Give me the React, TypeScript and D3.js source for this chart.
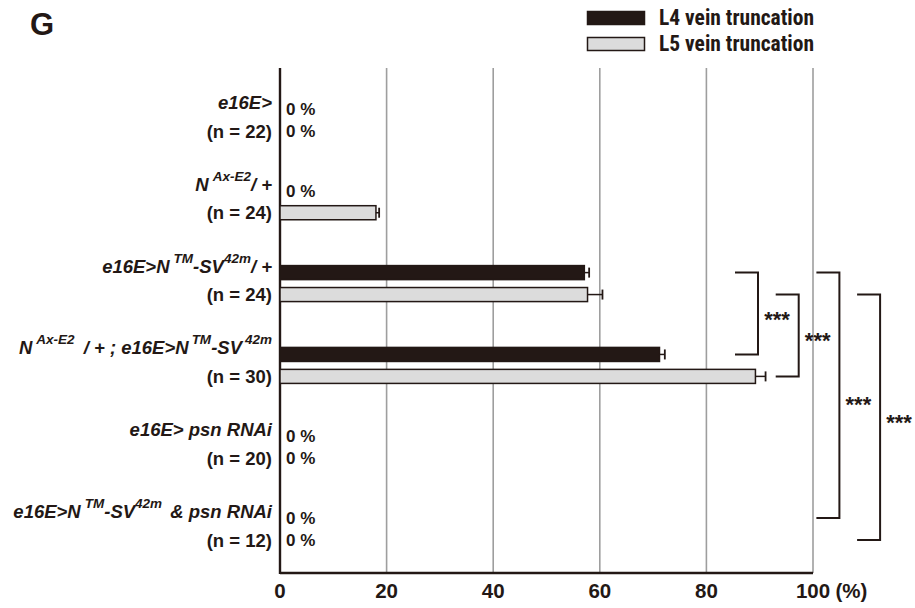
import React from "react";
import * as d3 from "d3";

type Seg = { t: string; sup?: boolean; dx?: number };

const groupLabels: Seg[][] = [
  [{ t: "e16E>" }],
  [{ t: "N" }, { t: "Ax-E2", sup: true, dx: 4 }, { t: "/ +" }],
  [{ t: "e16E>N" }, { t: "TM", sup: true, dx: 4 }, { t: "-SV" }, { t: "42m", sup: true }, { t: "/ +" }],
  [{ t: "N" }, { t: "Ax-E2", sup: true, dx: 4 }, { t: " / + ; e16E>N", dx: 4 }, { t: "TM", sup: true, dx: 3 }, { t: "-SV" }, { t: "42m", sup: true, dx: 3 }],
  [{ t: "e16E> psn RNAi" }],
  [{ t: "e16E>N" }, { t: "TM", sup: true, dx: 4 }, { t: "-SV" }, { t: "42m", sup: true }, { t: " & psn RNAi", dx: 3 }],
];
const nLabels = ["(n = 22)", "(n = 24)", "(n = 24)", "(n = 30)", "(n = 20)", "(n = 12)"];
const groups = ["g1", "g2", "g3", "g4", "g5", "g6"];
const seriesNames = ["L4 vein truncation", "L5 vein truncation"];
const l4Values = [0, 0, 57.1, 71.2, 0, 0];
const l4Errors = [0, 0, 0.9, 1.0, 0, 0];
const l5Values = [0, 18.0, 57.7, 89.2, 0, 0];
const l5Errors = [0, 0.6, 2.8, 1.9, 0, 0];
const xTicks = [0, 20, 40, 60, 80, 100];
const axisUnit = "(%)";
// comparisons: [groupA, groupB, seriesIndex]
const comparisons: [number, number, number][] = [
  [2, 3, 0],
  [2, 3, 1],
  [2, 5, 0],
  [2, 5, 1],
];
const sigLabel = "***";

const SANS = "'Liberation Sans', Arial, Helvetica, sans-serif";
const NARROW = "'Roboto Condensed', 'Liberation Sans Narrow', 'Arial Narrow', sans-serif";
const DARK = "#231815";

export default function App() {
  const W = 915, H = 608;
  const x = d3.scaleLinear().domain([0, 100]).range([280, 813]);
  const y = d3.scaleBand().domain(groups).range([79, 570]).padding(0);
  const ySub = d3.scaleBand().domain(seriesNames).range([-18, 18]).paddingInner(0.36).paddingOuter(0);
  const bh = ySub.bandwidth();
  const seriesVals = [l4Values, l5Values];
  const seriesErr = [l4Errors, l5Errors];
  const fills = [DARK, "#dcdcdc"];
  const axisTop = 68, axisBottom = 573;
  const cy = (gi: number, si: number) => (y(groups[gi]) as number) + y.bandwidth() / 2 + (ySub(seriesNames[si]) as number) + bh / 2;

  return (
    <svg width={W} height={H} style={{ position: "absolute", left: 0, top: 0, background: "#fff" }} fontFamily={SANS}>
      <text x={30} y={35} fontSize={31} fontWeight="bold" fill={DARK}>G</text>
      {/* legend */}
      {seriesNames.map((s, i) => (
        <g key={s}>
          <rect x={587.5} y={11.5 + i * 26} width={57} height={13} fill={fills[i]} stroke={DARK} strokeWidth={1.5} />
          <text x={659} y={17.5 + i * 26} dy="0.36em" fontSize={21.5} fontWeight="bold" fill={DARK} fontFamily={NARROW}>{s}</text>
        </g>
      ))}
      {/* grid */}
      {xTicks.slice(1).map((t) => (
        <line key={t} x1={x(t)} x2={x(t)} y1={axisTop} y2={axisBottom} stroke="#9e9e9e" strokeWidth={1.6} />
      ))}
      {/* axes */}
      <line x1={x(0)} x2={x(0)} y1={axisTop} y2={axisBottom + 1} stroke={DARK} strokeWidth={2.4} />
      <line x1={x(0)} x2={x(100)} y1={axisBottom} y2={axisBottom} stroke={DARK} strokeWidth={2.4} />
      {xTicks.map((t) => (
        <text key={t} x={x(t)} y={591} dy="0.36em" textAnchor="middle" fontSize={20.5} fontWeight="bold" fill={DARK}>{t}</text>
      ))}
      <text x={x(100) + 22.5} y={591} dy="0.36em" fontSize={20.5} fontWeight="bold" fill={DARK}>{axisUnit}</text>
      {/* bars */}
      {groups.map((g, gi) =>
        seriesNames.map((s, si) => {
          const v = seriesVals[si][gi];
          const e = seriesErr[si][gi];
          const c = cy(gi, si);
          if (v === 0) {
            return (
              <text key={g + s} x={x(0) + 6} y={c} dy="0.36em" fontSize={17} fontWeight="bold" fill={DARK}>0 %</text>
            );
          }
          return (
            <g key={g + s}>
              <rect x={x(0)} y={c - bh / 2} width={x(v) - x(0)} height={bh} fill={fills[si]} stroke={DARK} strokeWidth={1.5} />
              <line x1={x(v)} x2={x(v + e)} y1={c} y2={c} stroke={DARK} strokeWidth={1.5} />
              <line x1={x(v + e)} x2={x(v + e)} y1={c - 5} y2={c + 5} stroke={DARK} strokeWidth={1.8} />
            </g>
          );
        })
      )}
      {/* labels */}
      {groups.map((g, gi) => (
        <g key={g}>
          <text x={272} y={cy(gi, 0)} dy="0.36em" textAnchor="end" fontSize={18.5} fontWeight="bold" fontStyle="italic" fill={DARK}>
            {groupLabels[gi].map((seg, k) =>
              seg.sup ? (
                <tspan key={k} dx={seg.dx || 0} dy={-10} fontSize={13.5}>{seg.t}</tspan>
              ) : (
                <tspan key={k} dx={seg.dx || 0} dy={k > 0 && groupLabels[gi][k - 1].sup ? 10 : 0}>{seg.t}</tspan>
              )
            )}
          </text>
          <text x={272} y={cy(gi, 1)} dy="0.36em" textAnchor="end" fontSize={18.5} fontWeight="bold" fill={DARK}>{nLabels[gi]}</text>
        </g>
      ))}
      {/* significance brackets */}
      {comparisons.map(([a, b, si], i) => {
        const x0 = 735 + i * 40.7;
        const x1 = x0 + 23;
        const y0 = cy(a, si), y1 = cy(b, si);
        return (
          <g key={i}>
            <path d={`M${x0},${y0}H${x1}V${y1}H${x0}`} fill="none" stroke={DARK} strokeWidth={2} />
            <text x={x1 + 19} y={(y0 + y1) / 2 + (i === 2 ? 4 : 0) + 13} textAnchor="middle" fontSize={22} fontWeight="bold" fill={DARK}>{sigLabel}</text>
          </g>
        );
      })}
    </svg>
  );
}
